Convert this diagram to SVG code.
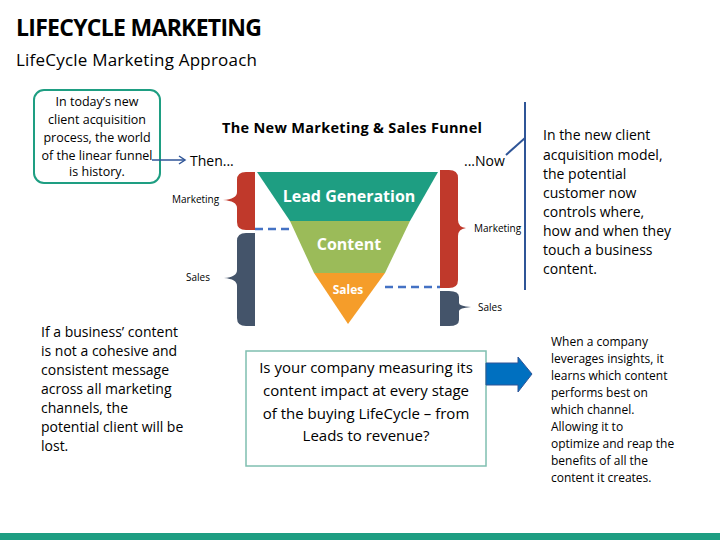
<svg xmlns="http://www.w3.org/2000/svg" width="720" height="540" viewBox="0 0 720 540">
<style>
text{font-family:"Open Sans","Liberation Sans",sans-serif;fill:#000}
.b{font-size:14px}
.s{font-size:10px}
.w{fill:#fff;font-weight:bold}
.m{text-anchor:middle}
</style>
<rect width="720" height="540" fill="#fff"/>
<rect x="0" y="533" width="720" height="7" fill="#1e9e82"/>
<text x="16" y="36" style="font-size:23px;font-weight:bold" textLength="246">LIFECYCLE MARKETING</text>
<text x="16" y="66" style="font-size:17px" textLength="241">LifeCycle Marketing Approach</text>
<g id="intro">
<rect x="34" y="90" width="126" height="93" rx="10" fill="#fff" stroke="#1e9e82" stroke-width="2"/>
<text class="m" style="font-size:12.5px" x="97"><tspan x="97" y="106">In today’s new</tspan><tspan x="97" y="124">client acquisition</tspan><tspan x="97" y="142">process, the world</tspan><tspan x="97" y="160">of the linear funnel</tspan><tspan x="97" y="176">is history.</tspan></text>
</g>
<text x="222" y="133" style="font-size:14.5px;font-weight:bold" textLength="260">The New Marketing &amp; Sales Funnel</text>
<text x="190" y="166" class="b">Then...</text>
<text x="464" y="166" class="b">...Now</text>
<g id="funnel">
<polygon points="257,172 438,172 410,221 290,221" fill="#1e9e82"/>
<polygon points="290,221 410,221 385,273 314,273" fill="#9bbb59"/>
<polygon points="314,273 385,273 348,324" fill="#f59d2a"/>
<text x="349" y="202" class="m w" style="font-size:16px">Lead Generation</text>
<text x="349" y="250" class="m w" style="font-size:16px">Content</text>
<text x="348" y="294" class="m w" style="font-size:12px">Sales</text>
</g>
<g id="braces">
<path d="M255,172 L246,172 Q237,172 237,180 L237,192 Q237,199 223,200 Q237,201 237,208 L237,222 Q237,230 246,230 L255,230 Z" fill="#c0392b"/>
<path d="M255,233 L246,233 Q237,233 237,241 L237,270 Q237,277 224,278 Q237,279 237,286 L237,318 Q237,326 246,326 L255,326 Z" fill="#44546a"/>
<path d="M440,170 L449,170 Q458,170 458,178 L458,220 Q458,227 466,228 Q458,229 458,236 L458,280 Q458,288 449,288 L440,288 Z" fill="#c0392b"/>
<path d="M440,291 L449,291 Q459,291 459,297 L459,303 Q459,306 471,307 Q459,308 459,311 L459,320 Q459,326 449,326 L440,326 Z" fill="#44546a"/>
<text x="172" y="203" class="s">Marketing</text>
<text x="186" y="281" class="s">Sales</text>
<text x="474" y="232" class="s">Marketing</text>
<text x="478" y="311" class="s">Sales</text>
</g>
<g id="connectors" stroke="#4472c4" fill="none">
<line x1="255" y1="229" x2="290" y2="229" stroke-width="2.5" stroke-dasharray="8,5"/>
<line x1="385" y1="287" x2="440" y2="287" stroke-width="2.5" stroke-dasharray="8,5"/>
<line x1="152" y1="160" x2="184" y2="160" stroke="#2f5597" stroke-width="1.5"/>
<polyline points="179,156 185,160 179,164" stroke="#2f5597" stroke-width="1.5"/>
<line x1="525" y1="102" x2="525" y2="290" stroke="#2f5597" stroke-width="2"/>
<line x1="506" y1="155" x2="525" y2="138" stroke="#2f5597" stroke-width="2"/>
</g>
<g id="right-text">
<text style="font-size:14px"><tspan x="543" y="140">In the new client</tspan><tspan x="543" y="160">acquisition model,</tspan><tspan x="543" y="179">the potential</tspan><tspan x="543" y="198">customer now</tspan><tspan x="543" y="217">controls where,</tspan><tspan x="543" y="236">how and when they</tspan><tspan x="543" y="255">touch a business</tspan><tspan x="543" y="274">content.</tspan></text>
</g>
<g id="left-text">
<text style="font-size:14px"><tspan x="41" y="337">If a business’ content</tspan><tspan x="41" y="356">is not a cohesive and</tspan><tspan x="41" y="375">consistent message</tspan><tspan x="41" y="394">across all marketing</tspan><tspan x="41" y="413">channels, the</tspan><tspan x="41" y="432">potential client will be</tspan><tspan x="41" y="451">lost.</tspan></text>
</g>
<g id="question">
<rect x="246" y="351" width="240" height="115" fill="#fff" stroke="#7fbfb0" stroke-width="1.5"/>
<text class="m" style="font-size:15px"><tspan x="366" y="373">Is your company measuring its</tspan><tspan x="366" y="396">content impact at every stage</tspan><tspan x="366" y="419">of the buying LifeCycle – from</tspan><tspan x="366" y="441">Leads to revenue?</tspan></text>
</g>
<polygon id="arrow" points="486,363 518,363 518,357 532,374 518,392 518,385 486,385" fill="#0070c0" stroke="#2f5597"/>
<g id="insight">
<text style="font-size:12px"><tspan x="551" y="346">When a company</tspan><tspan x="551" y="363">leverages insights, it</tspan><tspan x="551" y="380">learns which content</tspan><tspan x="551" y="397">performs best on</tspan><tspan x="551" y="414">which channel.</tspan><tspan x="551" y="431">Allowing it to</tspan><tspan x="551" y="448">optimize and reap the</tspan><tspan x="551" y="465">benefits of all the</tspan><tspan x="551" y="482">content it creates.</tspan></text>
</g>
</svg>
